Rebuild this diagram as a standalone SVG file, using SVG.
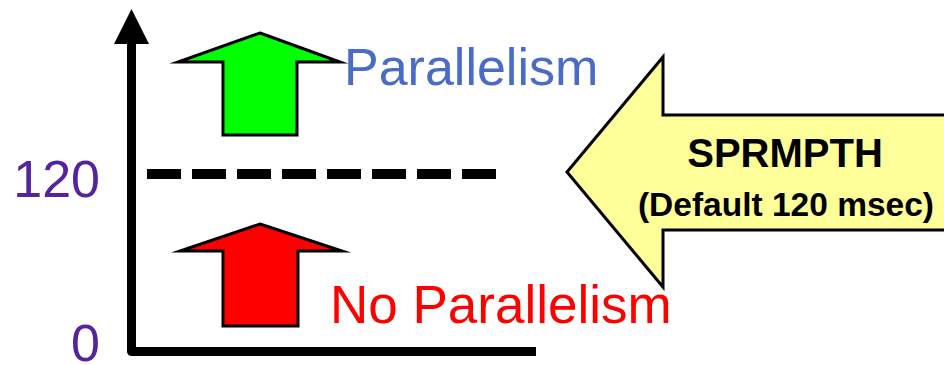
<svg xmlns="http://www.w3.org/2000/svg" width="944" height="365" viewBox="0 0 944 365">
<style>
.lbl{font-family:"Liberation Sans",Arial,sans-serif}
.arr{stroke:#000;stroke-width:3;stroke-linejoin:miter;stroke-miterlimit:20}
.axis{fill:none;stroke:#000;stroke-width:9;stroke-linejoin:round}
.num{fill:#5522a0;font-size:52px}
</style>
<rect width="944" height="365" fill="#fff"/>
<g id="axes">
<polyline class="axis" points="131.5,40 131.5,351.5 536,351.5"/>
<polygon points="131.5,9 114,44 149,44" fill="#000"/>
</g>
<g id="connectors">
<line x1="147" y1="174" x2="500" y2="174" stroke="#000" stroke-width="10" stroke-dasharray="34 11"/>
</g>
<g id="label-120"><text class="lbl num" x="100" y="197" text-anchor="end">120</text></g>
<g id="label-0"><text class="lbl num" x="100" y="361" text-anchor="end">0</text></g>
<g id="parallelism">
<polygon class="arr" fill="#00ff00" points="260,33 340,62 297,62 297,135 223,135 223,62 178,62"/>
<text class="lbl" x="344" y="85" font-size="52" fill="#4a6cc8">Parallelism</text>
</g>
<g id="no-parallelism">
<polygon class="arr" fill="#ff0000" points="260,224 342,251 298,251 298,326 223,326 223,251 180,251"/>
<text class="lbl" x="330" y="323" font-size="53" fill="#ff0000">No Parallelism</text>
</g>
<g id="sprmpth">
<polygon class="arr" fill="#ffff99" points="567,172 663,57 663,115 950,115 950,230 663,230 663,287"/>
<text class="lbl" x="785" y="167" font-size="40" font-weight="bold" text-anchor="middle" fill="#000">SPRMPTH</text>
<text class="lbl" x="786" y="216" font-size="33.5" font-weight="bold" text-anchor="middle" fill="#000">(Default 120 msec)</text>
</g>
</svg>
